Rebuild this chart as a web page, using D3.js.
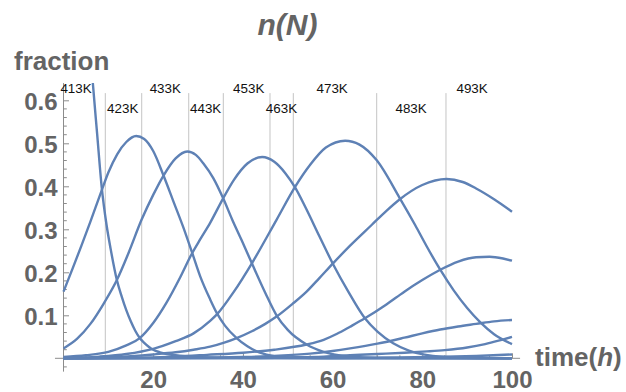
<!DOCTYPE html>
<html>
<head>
<meta charset="utf-8">
<script src="https://cdn.jsdelivr.net/npm/d3@7"></script>
<style>
  html, body { margin: 0; padding: 0; background: #fff; }
  svg { display: block; font-family: "Liberation Sans", Arial, Helvetica, sans-serif; }
</style>
</head>
<body>
<svg id="chart" width="626" height="392"></svg>
<script>
// Temperature programme: step times (h) and the temperature held in each interval
const stepTimes = [9.32, 17.44, 27.92, 35.63, 46.04, 51.24, 69.83, 85.28];
const tempLabels = ["413K", "423K", "433K", "443K", "453K", "463K", "473K", "483K", "493K"];
const tempLabelTimes = [2.8, 13.2, 22.7, 31.7, 41.3, 48.6, 59.9, 77.5, 91.1];

const xTickValues = [20, 40, 60, 80, 100];
const yTickValues = [0.1, 0.2, 0.3, 0.4, 0.5, 0.6];

// Fraction n(N) versus time, one series per chain length N  ([time h, fraction])
const fracN0 = [[0,0.84],[2,0.83],[4,0.80],[5,0.77],[6,0.715],[6.5,0.645],[7.5,0.522],[8.5,0.40],[9.6,0.31],
  [10.5,0.255],[11.9,0.182],[13,0.143],[14,0.112],[15,0.086],[16,0.064],[17,0.047],[18,0.036],[19,0.027],
  [20,0.02],[21.5,0.014],[23,0.01],[25,0.007],[30,0.003],[35,0.0015],[45,0.0005],[60,0.0001],[100,0]];
const fracN1 = [[0,0.155],[2,0.208],[4,0.262],[6,0.318],[8.5,0.39],[10,0.432],[12,0.475],[14,0.503],
  [16.2,0.517],[18,0.51],[20,0.482],[22.3,0.425],[24.5,0.365],[26.7,0.305],[28.7,0.245],[30.5,0.19],
  [32.7,0.137],[34.2,0.105],[36,0.076],[38.6,0.047],[41,0.028],[43.8,0.013],[47,0.005],[52,0.0015],
  [60,0.0003],[100,0]];
const fracN2 = [[0,0.023],[3,0.045],[6,0.08],[9,0.128],[11.9,0.182],[14.5,0.245],[17.4,0.322],[20,0.38],
  [22.3,0.425],[25,0.465],[27.6,0.481],[29.5,0.473],[31.2,0.453],[33.4,0.419],[35.6,0.372],[37.6,0.323],
  [39.7,0.275],[42,0.221],[45,0.152],[47.5,0.1],[50,0.066],[54.2,0.032],[58,0.015],[62,0.006],[70,0.001],
  [100,0]];
const fracN3 = [[0,0.003],[5,0.007],[10,0.015],[14,0.03],[17,0.047],[20,0.082],[23,0.13],[26,0.188],
  [28.7,0.245],[30.5,0.277],[32.7,0.315],[35.6,0.372],[38,0.415],[41,0.453],[44.3,0.468],[47,0.457],
  [49.5,0.43],[51.6,0.398],[54,0.35],[57,0.285],[60.2,0.217],[63.5,0.155],[67.2,0.093],[70,0.062],
  [73.5,0.035],[77,0.018],[80.2,0.009],[85,0.003],[92,0.0008],[100,0.0002]];
const fracN4 = [[0,0.0005],[8,0.004],[14,0.01],[20,0.022],[25,0.04],[29,0.058],[32.7,0.087],[34.2,0.102],
  [38,0.155],[42,0.221],[47.5,0.322],[51.6,0.398],[55,0.45],[58.5,0.49],[62.8,0.506],[66,0.497],
  [69.8,0.461],[75,0.372],[78.4,0.31],[81,0.26],[84,0.206],[87,0.158],[90,0.117],[93,0.083],[96,0.056],
  [100,0.033]];
const fracN5 = [[0,0],[10,0.002],[15,0.005],[20,0.009],[25,0.014],[29,0.02],[32.7,0.027],[36,0.037],
  [38.6,0.047],[42,0.063],[45,0.08],[47.5,0.097],[51,0.126],[54.2,0.155],[57,0.186],[60.2,0.222],
  [63.9,0.262],[68.7,0.31],[72,0.343],[75,0.37],[80,0.403],[85.4,0.417],[89,0.41],[92,0.395],[96,0.37],
  [100,0.341]];
const fracN6 = [[0,0],[15,0.001],[25,0.004],[32,0.008],[40,0.013],[47,0.02],[54.2,0.032],[58,0.043],
  [61,0.057],[63.9,0.0735],[67.2,0.093],[72,0.125],[76,0.155],[80,0.182],[84,0.206],[88,0.225],
  [92,0.235],[95,0.236],[98,0.232],[100,0.227]];
const fracN7 = [[0,0],[30,0.001],[40,0.003],[48,0.006],[55,0.011],[60,0.017],[63.9,0.023],[70,0.034],
  [76,0.048],[80,0.058],[84,0.067],[88,0.074],[92,0.08],[96,0.086],[100,0.089]];
const fracN8 = [[0,0],[40,0.0005],[50,0.002],[58,0.004],[63.9,0.007],[70,0.01],[76,0.013],[81,0.016],
  [85,0.019],[90,0.025],[94,0.033],[97,0.041],[100,0.05]];
const fracN9 = [[0,0],[60,0.0008],[75,0.0018],[85,0.0035],[92,0.0055],[100,0.009]];

const allSeries = [fracN0, fracN1, fracN2, fracN3, fracN4, fracN5, fracN6, fracN7, fracN8, fracN9];

// ---- drawing ----
const svg = d3.select("#chart");
const lineColor = "#5e81b5";
const axisColor = "#8c8c8c";
const labelColor = "#646464";

const x = d3.scaleLinear().domain([0, 100]).range([63.5, 512]);
const y = d3.scaleLinear().domain([0, 0.6]).range([358.3, 100.3]);

// plot range, slightly padded beyond the data
const xLo = -1.9, xHi = 101.8, yLo = -0.031, yHi = 0.64;

// vertical markers at each temperature step
svg.append("g")
  .selectAll("line")
  .data(stepTimes)
  .join("line")
  .attr("x1", d => x(d)).attr("x2", d => x(d))
  .attr("y1", y(yHi) + 10).attr("y2", y(0))
  .attr("stroke", "#c4c4c4")
  .attr("stroke-width", 1);

// x axis
svg.append("line")
  .attr("x1", x(xLo)).attr("x2", x(xHi))
  .attr("y1", y(0)).attr("y2", y(0))
  .attr("stroke", axisColor).attr("stroke-width", 1);

const xMinor = d3.range(5, 101, 5).filter(v => v % 20 !== 0);
svg.append("g").selectAll("line").data(xMinor).join("line")
  .attr("x1", d => x(d)).attr("x2", d => x(d))
  .attr("y1", y(0)).attr("y2", y(0) - 3)
  .attr("stroke", axisColor);

const gx = svg.append("g")
  .attr("transform", `translate(0,${y(0)})`)
  .call(d3.axisBottom(x).tickValues(xTickValues).tickSize(-5).tickSizeOuter(0).tickPadding(12.5));
gx.select(".domain").remove();
gx.selectAll("line").attr("stroke", axisColor);
gx.selectAll("text")
  .attr("fill", labelColor)
  .style("font-size", "24px")
  .style("font-weight", "bold")
  .style("font-family", "'Liberation Sans', Arial, Helvetica, sans-serif");

// y axis
svg.append("line")
  .attr("x1", x(0)).attr("x2", x(0))
  .attr("y1", y(yLo)).attr("y2", y(yHi))
  .attr("stroke", axisColor).attr("stroke-width", 1);

const yMinor = d3.range(-1, 31).map(i => +(i * 0.02).toFixed(2)).filter(v => Math.abs(v * 10 - Math.round(v * 10)) > 1e-6);
svg.append("g").selectAll("line").data(yMinor).join("line")
  .attr("x1", x(0)).attr("x2", x(0) + 3.3)
  .attr("y1", d => y(d)).attr("y2", d => y(d))
  .attr("stroke", axisColor);

const gy = svg.append("g")
  .attr("transform", `translate(${x(0)},0)`)
  .call(d3.axisLeft(y).tickValues(yTickValues).tickSize(-5.5).tickSizeOuter(0).tickPadding(6)
    .tickFormat(d3.format(".1f")));
gy.select(".domain").remove();
gy.selectAll("line").attr("stroke", axisColor);
gy.selectAll("text")
  .attr("fill", labelColor)
  .attr("dy", "0.4em")
  .style("font-size", "24px")
  .style("font-weight", "bold")
  .style("font-family", "'Liberation Sans', Arial, Helvetica, sans-serif");

// curves, clipped to the plot range
svg.append("clipPath").attr("id", "plotClip")
  .append("rect")
  .attr("x", x(xLo)).attr("y", y(yHi))
  .attr("width", x(xHi) - x(xLo)).attr("height", y(yLo) - y(yHi));

const line = d3.line()
  .x(d => x(d[0]))
  .y(d => y(d[1]))
  .curve(d3.curveMonotoneX);

svg.append("g")
  .attr("clip-path", "url(#plotClip)")
  .selectAll("path")
  .data(allSeries)
  .join("path")
  .attr("d", line)
  .attr("fill", "none")
  .attr("stroke", lineColor)
  .attr("stroke-width", 2.4)
  .attr("stroke-linejoin", "round");

// temperature labels, alternating between two rows
svg.append("g")
  .selectAll("text")
  .data(tempLabels)
  .join("text")
  .attr("x", (d, i) => x(tempLabelTimes[i]))
  .attr("y", (d, i) => y(yHi) + (i % 2 === 0 ? 9.6 : 30.2))
  .attr("text-anchor", "middle")
  .attr("fill", "#111")
  .style("font-size", "13.4px")
  .text(d => d);

// title and axis labels
const title = svg.append("text")
  .attr("x", (x(xLo) + x(xHi)) / 2)
  .attr("y", 35)
  .attr("text-anchor", "middle")
  .attr("fill", labelColor)
  .style("font-size", "30px")
  .style("font-weight", "bold")
  .style("font-style", "italic");
title.append("tspan").text("n(N)");

svg.append("text")
  .attr("x", 14).attr("y", 70)
  .attr("fill", labelColor)
  .style("font-size", "26px")
  .style("font-weight", "bold")
  .text("fraction");

const xLabel = svg.append("text")
  .attr("x", 535).attr("y", 366)
  .attr("fill", labelColor)
  .style("font-size", "26px")
  .style("font-weight", "bold");
xLabel.append("tspan").text("time(");
xLabel.append("tspan").style("font-style", "italic").text("h");
xLabel.append("tspan").text(")");
</script>
</body>
</html>
